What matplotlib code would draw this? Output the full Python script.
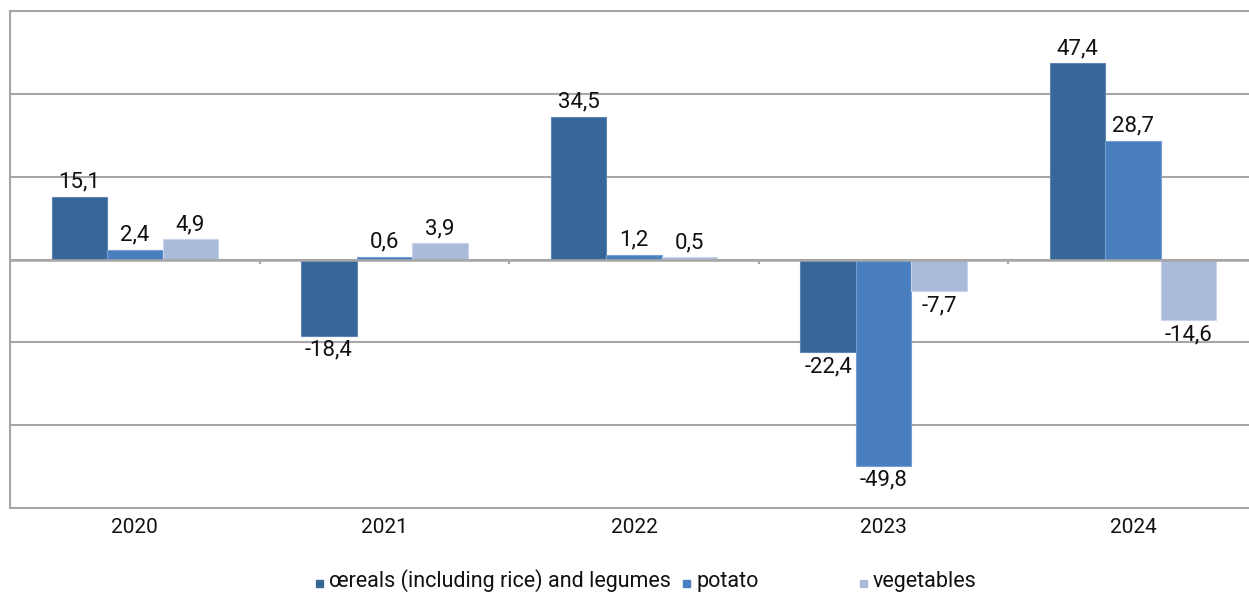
import matplotlib
matplotlib.use("Agg")
import matplotlib.pyplot as plt
from matplotlib.patches import Rectangle
import numpy as np

plt.rcParams['font.family'] = ['Roboto', 'DejaVu Sans']

# Year-on-year change by crop group.
years = ["2020", "2021", "2022", "2023", "2024"]
series_names = ["œreals (including rice) and legumes", "potato", "vegetables"]
cereals = [15.1, -18.4, 34.5, -22.4, 47.4]
potato = [2.4, 0.6, 1.2, -49.8, 28.7]
vegetables = [4.9, 3.9, 0.5, -7.7, -14.6]

colors = ["#376698", "#4a7fbf", "#a9badb"]
edges = ["#5f86b3", "#76a0d3", "#c9d4ea"]
grid_color = "#a6a6a6"

W, H = 1249, 592
fig = plt.figure(figsize=(W / 100, H / 100), dpi=100)
ax = fig.add_axes([10 / W, 84 / H, 1248 / W, 497 / H])

x = np.arange(len(years))
bar_w = 0.222
for i, vals in enumerate([cereals, potato, vegetables]):
    pos = x + (i - 1) * bar_w
    bars = ax.bar(pos, vals, width=bar_w, color=colors[i],
                  edgecolor=edges[i], linewidth=0.8, zorder=3)
    for b, v in zip(bars, vals):
        label = f"{v:.1f}".replace(".", ",")
        cx = b.get_x() + b.get_width() / 2
        if v >= 0:
            ax.annotate(label, (cx, v), xytext=(0, 3), textcoords="offset points",
                        ha="center", va="bottom", fontsize=16, color="#111111")
        else:
            ax.annotate(label, (cx, v), xytext=(0, -3), textcoords="offset points",
                        ha="center", va="top", fontsize=16, color="#111111")

ax.set_xlim(-0.5, len(years) - 0.5)
ax.set_ylim(-60, 60)
ax.set_yticks(np.arange(-60, 61, 20))
ax.yaxis.grid(True, color=grid_color, linewidth=1.5, zorder=0)
ax.set_axisbelow(True)
ax.tick_params(axis="y", left=False, labelleft=False)
ax.set_xticks(x)
ax.set_xticklabels(years, fontsize=15, color="#111111")
ax.tick_params(axis="x", length=0, pad=7)

# Zero line with small category separators.
ax.axhline(0, color=grid_color, linewidth=1.8, zorder=4)
ax.vlines(x[:-1] + 0.5, -1.0, 0, color=grid_color, linewidth=1.5, zorder=4)

ax.spines["right"].set_visible(False)
for side in ["left", "bottom", "top"]:
    ax.spines[side].set_color(grid_color)
    ax.spines[side].set_linewidth(1.5)

# Legend row along the bottom.
legend_x = [(316, 329), (683, 697), (860, 873)]
baseline = 587
for (mx, tx), name, c in zip(legend_x, series_names, colors):
    fig.add_artist(Rectangle((mx / W, (H - baseline) / H), 7 / W, 7 / H,
                             transform=fig.transFigure, color=c))
    fig.text(tx / W, (H - baseline) / H, name, ha="left", va="baseline",
             fontsize=15.5, color="#111111")

fig.savefig("out.png", dpi=100)
